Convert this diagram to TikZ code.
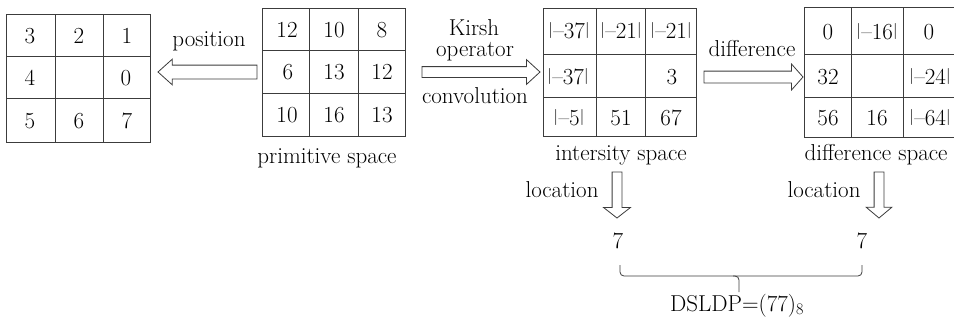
\documentclass[tikz,border=0pt]{standalone}
\usepackage{fontspec}
\usetikzlibrary{shapes.arrows}
\definecolor{ln}{RGB}{60,60,60}
\newcommand\absbar{\raisebox{4pt}{\fontsize{16}{16}\selectfont|}}
\newcommand\absv[1]{\absbar\kern0.5pt–#1\kern0.3pt\absbar}
\tikzset{
  every node/.style={font=\fontsize{23}{27}\selectfont, inner sep=0pt, outer sep=0pt},
  gridbox/.style={draw=ln, line width=0.8pt, anchor=north west},
  gline/.style={draw=ln, line width=0.8pt},
  lbl/.style={anchor=base},
  cell/.style={anchor=base},
  hollow/.style={single arrow, draw=ln, line width=0.8pt, fill=white, inner sep=0pt,
    minimum width=1pt, anchor=tip},
  bracepath/.style={draw=ln, line width=0.8pt, rounded corners=4pt}
}
\begin{document}
\begin{tikzpicture}[x=1pt,y=-1pt]
\useasboundingbox (0,0) rectangle (954,325);

% ---- grid 1 (position codes)
\node[gridbox, minimum width=144pt, minimum height=128pt] (g1) at (6,14) {};
\draw[gline] (55,14) -- (55,142) (103,14) -- (103,142) (6,56) -- (150,56) (6,98) -- (150,98);
\node[cell] (g1a) at (30,43) {3};
\node[cell] (g1b) at (79,43) {2};
\node[cell] (g1c) at (127,43) {1};
\node[cell] (g1d) at (30,85) {4};
\node[cell] (g1f) at (126,85) {0};
\node[cell] (g1g) at (30,128) {5};
\node[cell] (g1h) at (79,128) {6};
\node[cell] (g1i) at (127,128) {7};

% ---- grid 2 (primitive space)
\node[gridbox, minimum width=143pt, minimum height=128pt] (g2) at (262,8) {};
\draw[gline] (309,8) -- (309,136) (358,8) -- (358,136) (262,50) -- (405,50) (262,93) -- (405,93);
\node[cell] (g2a) at (287,37) {12};
\node[cell] (g2b) at (334,37) {10};
\node[cell] (g2c) at (382,37) {8};
\node[cell] (g2d) at (288,79) {6};
\node[cell] (g2e) at (334,79) {13};
\node[cell] (g2f) at (382,79) {12};
\node[cell] (g2g) at (287,122) {10};
\node[cell] (g2h) at (334,122) {16};
\node[cell] (g2i) at (382,122) {13};
\node[lbl] (prim) at (327,163) {primitive space};

% ---- grid 3 (intersity space)
\node[gridbox, minimum width=153pt, minimum height=128pt] (g3) at (543,8) {};
\draw[gline] (596,8) -- (596,136) (645,8) -- (645,136) (543,54) -- (696,54) (543,97) -- (696,97);
\node[cell] (g3a) at (569,38) {\absv{37}};
\node[cell] (g3b) at (621,38) {\absv{21}};
\node[cell] (g3c) at (671,38) {\absv{21}};
\node[cell] (g3d) at (568,84) {\absv{37}};
\node[cell] (g3f) at (672,84) {3};
\node[cell] (g3g) at (569,125) {\absv{5}};
\node[cell] (g3h) at (621,125) {51};
\node[cell] (g3i) at (671,125) {67};
\node[lbl] (ints) at (621,160) {intersity space};

% ---- grid 4 (difference space)
\node[gridbox, minimum width=152pt, minimum height=130pt] (g4) at (804,7) {};
\draw[gline] (851,7) -- (851,137) (903,7) -- (903,137) (804,54) -- (956,54) (804,97) -- (956,97);
\node[cell] (g4a) at (828,39) {0};
\node[cell] (g4b) at (877,39) {\absv{16}};
\node[cell] (g4c) at (929,39) {0};
\node[cell] (g4d) at (828,84) {32};
\node[cell] (g4f) at (930,84) {\absv{24}};
\node[cell] (g4g) at (828,125) {56};
\node[cell] (g4h) at (877,125) {16};
\node[cell] (g4i) at (930,125) {\absv{64}};
\node[lbl] (diffs) at (876,160) {difference space};

% ---- hollow arrows
\node[hollow, shape border rotate=180, inner ysep=6.5pt, single arrow head extend=6pt,
  single arrow tip angle=84, minimum height=99pt] (a1) at (158,72) {};
\node[lbl] (pos) at (209,46) {position};

\node[hollow, inner ysep=5pt, single arrow head extend=7pt,
  single arrow tip angle=85, minimum height=118pt] (a2) at (540,72) {};
\node[lbl] (kir) at (474,35) {Kirsh};
\node[lbl] (opr) at (475,56) {operator};
\node[lbl] (conv) at (475,103) {convolution};

\node[hollow, inner ysep=5.5pt, single arrow head extend=7pt,
  single arrow tip angle=97, minimum height=99pt] (a3) at (803,77) {};
\node[lbl] (dif) at (752,56) {difference};

\node[hollow, shape border rotate=270, inner xsep=4.5pt, single arrow head extend=8.5pt,
  single arrow tip angle=104, minimum height=46pt] (a4) at (617,218) {};
\node[lbl] (loc1) at (562,197) {location};

\node[hollow, shape border rotate=270, inner xsep=4.5pt, single arrow head extend=8pt,
  single arrow tip angle=100, minimum height=46pt] (a5) at (879,218) {};
\node[lbl] (loc2) at (824,197) {location};

% ---- results
\node[lbl] (s1) at (618,248) {7};
\node[lbl] (s2) at (862,248) {7};
\coordinate (bl) at (620,265);
\coordinate (br) at (862,265);
\coordinate (bm) at (739,276);
\coordinate (bt) at (739,292);
\draw[bracepath] (bl) -- (bl |- bm) -- (br |- bm) -- (br);
\draw[bracepath] (bm) ++(-6,0) -- (bm) -- (bt);
\node[lbl] (res) at (737,311) {DSLDP=(77)\textsubscript{8}};
\end{tikzpicture}
\end{document}
